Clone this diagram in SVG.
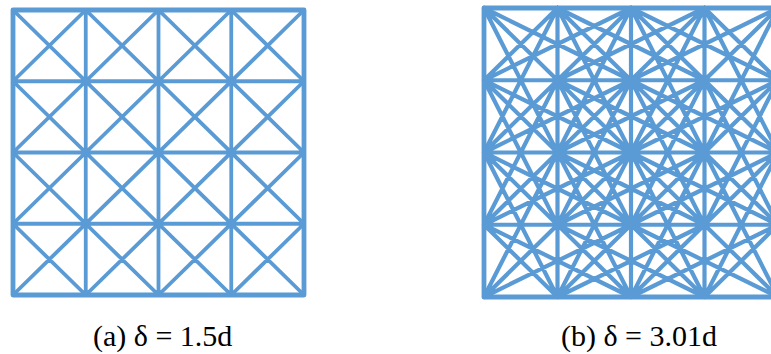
<svg xmlns="http://www.w3.org/2000/svg" width="771" height="354" viewBox="0 0 771 354">
  <style>
    .ln { fill: none; stroke: #5B9BD5; stroke-linecap: round; stroke-linejoin: round; vector-effect: non-scaling-stroke; }
    .a { stroke-width: 3.8; }
    .b { stroke-width: 4.2; }
    .border { stroke-width: 4.8; }
    .lbl { font-family: "Liberation Serif", "Times New Roman", serif; font-size: 30px; fill: #000; }
  </style>
  <rect width="771" height="354" fill="#fff"/>
  <g id="lattice-a" transform="translate(13,10) scale(72.75,71.25)">
    <path class="ln a" d="M0 1H4M0 2H4M0 3H4M1 0V4M2 0V4M3 0V4
      M0 0L4 4M1 0L4 3M2 0L4 2M3 0L4 1M0 1L3 4M0 2L2 4M0 3L1 4
      M4 0L0 4M3 0L0 3M2 0L0 2M1 0L0 1M4 1L1 4M4 2L2 4M4 3L3 4"/>
    <path class="ln border" d="M0 0H4V4H0Z"/>
  </g>
  <g id="lattice-b" transform="translate(484,8) scale(73.5,72.25)">
    <path class="ln b" d="M0 1H4M0 2H4M0 3H4M1 0V4M2 0V4M3 0V4
      M0 0L4 4M1 0L4 3M2 0L4 2M3 0L4 1M0 1L3 4M0 2L2 4M0 3L1 4
      M4 0L0 4M3 0L0 3M2 0L0 2M1 0L0 1M4 1L1 4M4 2L2 4M4 3L3 4
      M0 0l2 1M1 0l2 1M2 0l2 1M0 1l2 1M1 1l2 1M2 1l2 1M0 2l2 1M1 2l2 1M2 2l2 1M0 3l2 1M1 3l2 1M2 3l2 1
      M0 1l2 -1M1 1l2 -1M2 1l2 -1M0 2l2 -1M1 2l2 -1M2 2l2 -1M0 3l2 -1M1 3l2 -1M2 3l2 -1M0 4l2 -1M1 4l2 -1M2 4l2 -1
      M0 0l1 2M1 0l1 2M2 0l1 2M3 0l1 2M0 1l1 2M1 1l1 2M2 1l1 2M3 1l1 2M0 2l1 2M1 2l1 2M2 2l1 2M3 2l1 2
      M0 2l1 -2M1 2l1 -2M2 2l1 -2M3 2l1 -2M0 3l1 -2M1 3l1 -2M2 3l1 -2M3 3l1 -2M0 4l1 -2M1 4l1 -2M2 4l1 -2M3 4l1 -2"/>
    <path class="ln border" d="M0 0H4V4H0Z"/>
  </g>
  <g id="labels">
    <text class="lbl" x="93" y="346">(a) δ = 1.5d</text>
    <text class="lbl" x="561" y="346">(b) δ = 3.01d</text>
  </g>
</svg>
